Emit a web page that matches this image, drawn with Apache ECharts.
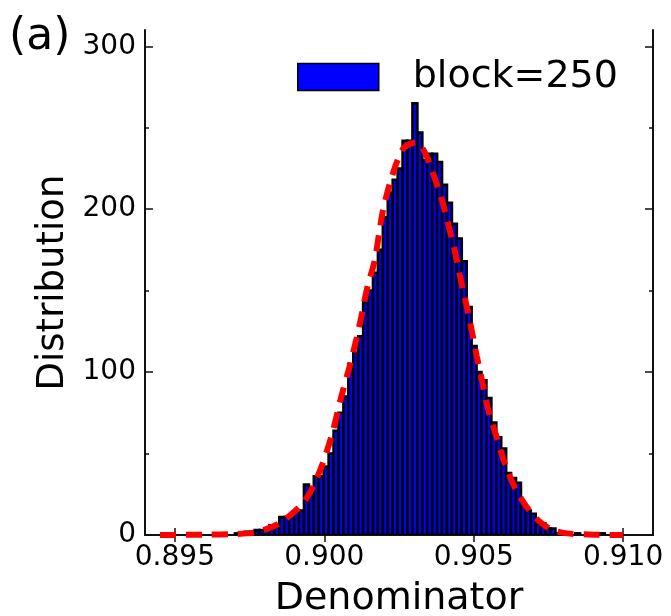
<!DOCTYPE html>
<html>
<head>
<meta charset="utf-8">
<script src="https://cdn.jsdelivr.net/npm/echarts@6/dist/echarts.min.js"></script>
<style>
  html, body { margin: 0; padding: 0; background: #fff; }
  #chart { width: 671px; height: 616px; }
</style>
</head>
<body>
<div id="chart"></div>
<script>
// histogram bins (start + width), counts
const binStart = 0.89635
const binWidth = 0.000165
const counts = [
  0, 0, 0, 0, 1, 1, 2, 2, 3, 3,
  4, 6, 6, 11, 11, 12, 15, 15, 31, 28,
  36, 36, 42, 50, 64, 75, 85, 105, 112, 122,
  143, 150, 161, 175, 195, 210, 218, 225, 242, 242,
  265, 247, 230, 234, 234, 229, 215, 204, 191, 182,
  168, 140, 116, 100, 95, 84, 69, 60, 53, 38,
  35, 32, 18, 15, 13, 7, 7, 4, 4, 1,
  1, 1, 0, 1, 0, 0, 1, 0, 1
]

// red dashed fit curve
const fitX = [0.8945, 0.8960, 0.8970, 0.89765, 0.89826, 0.89872, 0.89935, 0.89980, 0.90023, 0.90057,
  0.90084, 0.90107, 0.90124, 0.90144, 0.90168, 0.90195, 0.90218, 0.90245, 0.90268, 0.90309,
  0.90336, 0.90362, 0.90393, 0.90413, 0.90436, 0.90453, 0.90477, 0.90493, 0.90510, 0.90530,
  0.90547, 0.90577, 0.90604, 0.90638, 0.90678, 0.90722, 0.90765, 0.90812, 0.90906, 0.9100]
const fitY = [0, 0.2, 0.6, 1.5, 5, 10, 21, 37, 60, 85,
  103, 120, 134, 152, 168, 198, 215, 230, 238, 241,
  235, 223, 206, 192, 175, 160, 140, 126, 110, 93,
  78, 60, 44, 29, 17, 8, 3, 1, 0.2, 0]

const xTicks = [0.895, 0.900, 0.905, 0.910]
const yMajor = [0, 100, 200, 300]
const yMinor = [50, 150, 250]

const histData = counts.map((c, i) => [binStart + i * binWidth, binStart + (i + 1) * binWidth, c])
const fitData = fitX.map((x, i) => [x, fitY[i]])

const chart = echarts.init(document.getElementById('chart'))

const frame = { show: true, lineStyle: { color: '#111', width: 2 } }
const font = 'DejaVu Sans'

const xBase = {
  type: 'value', min: 0.894, max: 0.911,
  axisLine: frame,
  splitLine: { show: false },
  axisTick: { show: true, inside: true, length: 7, customValues: xTicks, lineStyle: { color: '#111', width: 1.5 } }
}
const yBase = {
  type: 'value', min: 0, max: 310,
  axisLine: frame,
  splitLine: { show: false }
}

chart.setOption({
  animation: false,
  grid: { left: 145, right: 18, top: 30, bottom: 81, outerBoundsMode: 'none', containLabel: false },
  legend: {
    left: 297, top: 58, padding: 0,
    itemWidth: 81, itemHeight: 27,
    data: [{ name: 'block=250', icon: 'rect', itemStyle: { color: '#0000ff', borderColor: '#000', borderWidth: 1.5 } }],
    textStyle: { fontFamily: font, fontSize: 38, color: '#000', padding: [0, 0, 0, 29] }
  },
  graphic: [{
    type: 'text', left: 9, top: 16,
    style: { text: '(a)', fontFamily: font, fontSize: 44, fill: '#000' }
  }],
  xAxis: [
    Object.assign({}, xBase, {
      position: 'bottom',
      axisLabel: { customValues: xTicks, formatter: v => v.toFixed(3), fontFamily: font, fontSize: 28, color: '#000', margin: 9 },
      name: 'Denominator', nameLocation: 'middle', nameGap: 45,
      nameTextStyle: { fontFamily: font, fontSize: 38, color: '#000' }
    }),
    Object.assign({}, xBase, { position: 'top', axisLabel: { show: false } })
  ],
  yAxis: [
    Object.assign({}, yBase, {
      position: 'left',
      axisTick: { inside: true, length: 8, customValues: yMajor, lineStyle: { color: '#111', width: 1.5 } },
      axisLabel: { customValues: yMajor, fontFamily: font, fontSize: 28, color: '#000', margin: 9 },
      name: 'Distribution', nameLocation: 'middle', nameGap: 72,
      nameTextStyle: { fontFamily: font, fontSize: 37, color: '#000' }
    }),
    Object.assign({}, yBase, {
      position: 'right',
      axisTick: { inside: true, length: 8, customValues: yMajor, lineStyle: { color: '#111', width: 1.5 } },
      axisLabel: { show: false }
    }),
    Object.assign({}, yBase, {
      position: 'left', axisLine: { show: false },
      axisTick: { inside: true, length: 4, customValues: yMinor, lineStyle: { color: '#111', width: 1.5 } },
      axisLabel: { show: false }
    }),
    Object.assign({}, yBase, {
      position: 'right', axisLine: { show: false },
      axisTick: { inside: true, length: 4, customValues: yMinor, lineStyle: { color: '#111', width: 1.5 } },
      axisLabel: { show: false }
    })
  ],
  series: [
    {
      name: 'block=250',
      type: 'custom',
      data: histData,
      clip: true,
      renderItem: function (params, api) {
        const h = api.value(2)
        if (!h) return null
        const p0 = api.coord([api.value(0), h])
        const p1 = api.coord([api.value(1), 0])
        return {
          type: 'rect',
          shape: { x: p0[0], y: p0[1], width: p1[0] - p0[0], height: p1[1] - p0[1] },
          style: { fill: '#0000ff', stroke: '#000', lineWidth: 2.6 }
        }
      },
      z: 2
    },
    {
      name: 'fit',
      type: 'line',
      data: fitData,
      smooth: 0.3,
      symbol: 'none',
      clip: true,
      lineStyle: { color: '#ff0000', width: 6, type: [16, 10] },
      z: 3
    }
  ]
})
</script>
</body>
</html>
